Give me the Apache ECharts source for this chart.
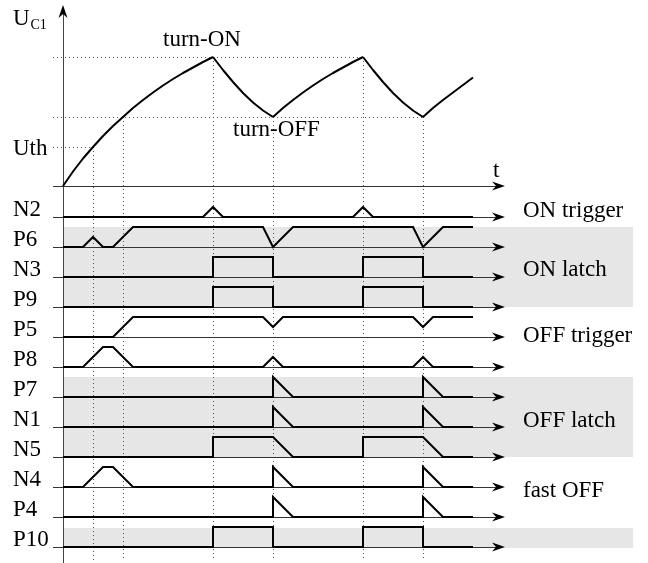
<!DOCTYPE html>
<html><head><meta charset="utf-8">
<script src="https://cdn.jsdelivr.net/npm/echarts@6/dist/echarts.min.js"></script>
<style>html,body{margin:0;padding:0;background:#fff}#c{width:648px;height:563px}</style>
</head><body><div id="c"></div>
<script>
// ---- data (time in units, levels in units) ----
const rowNames = ['N2','P6','N3','P9','P5','P8','P7','N1','N5','N4','P4','P10'];
const rowBaselines = [-3.1,-6.1,-9.1,-12.1,-15.1,-18.1,-21.1,-24.1,-27.1,-30.1,-33.1,-36.1];

const waveN2  = [[0,0],[14,0],[15,1],[16,0],[29,0],[30,1],[31,0],[41,0]];
const waveP6  = [[0,0],[2,0],[3,1],[4,0],[5,0],[7,2],[20,2],[21,0],[23,2],[35,2],[36,0],[38,2],[41,2]];
const waveN3  = [[0,0],[15,0],[15,2],[21,2],[21,0],[30,0],[30,2],[36,2],[36,0],[41,0]];
const waveP9  = [[0,0],[15,0],[15,2],[21,2],[21,0],[30,0],[30,2],[36,2],[36,0],[41,0]];
const waveP5  = [[0,0],[5,0],[7,2],[20,2],[21,1],[22,2],[35,2],[36,1],[37,2],[41,2]];
const waveP8  = [[0,0],[2,0],[4,2],[5,2],[7,0],[20,0],[21,1],[22,0],[35,0],[36,1],[37,0],[41,0]];
const waveP7  = [[0,0],[21,0],[21,2],[23,0],[36,0],[36,2],[38,0],[41,0]];
const waveN1  = [[0,0],[21,0],[21,2],[23,0],[36,0],[36,2],[38,0],[41,0]];
const waveN5  = [[0,0],[15,0],[15,2],[21,2],[23,0],[30,0],[30,2],[36,2],[38,0],[41,0]];
const waveN4  = [[0,0],[2,0],[4,2],[5,2],[7,0],[21,0],[21,2],[23,0],[36,0],[36,2],[38,0],[41,0]];
const waveP4  = [[0,0],[21,0],[21,2],[23,0],[36,0],[36,2],[38,0],[41,0]];
const waveP10 = [[0,0],[15,0],[15,2],[21,2],[21,0],[30,0],[30,2],[36,2],[36,0],[41,0]];
const waves = [waveN2,waveP6,waveN3,waveP9,waveP5,waveP8,waveP7,waveN1,waveN5,waveN4,waveP4,waveP10];

// U_C1 curve segments
const ucSeg1 = [[0,0],[1,1.45],[2,2.75],[3,3.9],[4,5.0],[5,6.0],[6,6.9],[7,7.8],[8,8.6],[9,9.35],[10,10.05],[11,10.7],[12,11.3],[13,11.85],[14,12.4],[15,12.9]];
const ucSeg2 = [[15,12.9],[16,11.6],[17,10.4],[18,9.3],[19,8.35],[20,7.55],[21,6.9]];
const ucSeg3 = [[21,6.9],[22,7.8],[23,8.6],[24,9.35],[25,10.05],[26,10.7],[27,11.3],[28,11.85],[29,12.4],[30,12.9]];
const ucSeg4 = [[30,12.9],[31,11.6],[32,10.4],[33,9.3],[34,8.35],[35,7.55],[36,6.9]];
const ucSeg5 = [[36,6.9],[37,7.8],[38,8.6],[39,9.35],[40,10.1],[41,10.85]];
const ucSegs = [ucSeg1,ucSeg2,ucSeg3,ucSeg4,ucSeg5];

const uth = 3.9, uLow = 6.9, uHigh = 12.9;
const vGuideT   = [3,6,15,21,30,36];
const vGuideTop = [uth,uLow,uHigh,uLow,uHigh,uLow];
const hGuideY   = [uHigh,uLow,uth];
const hGuideEnd = [30,36,3];

const bandTop    = [-4.1,-19.1,-34.2];
const bandBottom = [-12.1,-27.1,-36.2];

const groupLabels = ['ON trigger','ON latch','OFF trigger','OFF latch','fast OFF'];
const groupY      = [-3.2,-9.1,-15.7,-24.2,-31.2];

// ---- layout constants (styles) ----
const T_MIN = -6.3, T_MAX = 58.5, V_MIN = -37.7, V_MAX = 18.6;
const AX_START = -1, AX_END = 44.2, BAND_END = 57, V_AX_TOP = 18.1, GUIDE_BOTTOM = -37.4;
const FONT = 'Liberation Serif';

const chart = echarts.init(document.getElementById('c'), null, {renderer:'canvas'});

function snap(v){ return Math.round(v - 0.5) + 0.5; }

function hArrowLine(y, api){
  const p0 = api.coord([AX_START, y]), p1 = api.coord([AX_END, y]);
  const yy = snap(p1[1]);
  return {type:'group', children:[
    {type:'line', shape:{x1:p0[0], y1:yy, x2:p1[0]-8, y2:yy}, style:{stroke:'#333', lineWidth:1}},
    {type:'polygon', shape:{points:[[p1[0],p1[1]],[p1[0]-13,p1[1]-4.5],[p1[0]-9,p1[1]],[p1[0]-13,p1[1]+4.5]]}, style:{fill:'#000'}}
  ]};
}

const series = [];

// bands
series.push({
  type:'custom', z:1, silent:true, animation:false,
  data: bandTop.map((t,i)=>[0, t]),
  renderItem:(params, api)=>{
    const i = params.dataIndex;
    const a = api.coord([0, bandTop[i]]), b = api.coord([BAND_END, bandBottom[i]]);
    return {type:'rect', shape:{x:a[0], y:a[1], width:b[0]-a[0], height:b[1]-a[1]}, style:{fill:'#e6e6e6'}};
  }
});

// dotted guides
series.push({
  type:'custom', z:2, silent:true, animation:false,
  data: [[0,0]],
  renderItem:(params, api)=>{
    const ch = [];
    hGuideY.forEach((y,i)=>{
      const a = api.coord([AX_START, y]), b = api.coord([hGuideEnd[i], y]);
      const yy = snap(a[1]);
      ch.push({type:'line', shape:{x1:a[0], y1:yy, x2:b[0], y2:yy}, style:{stroke:'#555', lineWidth:1, lineDash:[1,3]}});
    });
    vGuideT.forEach((t,i)=>{
      const a = api.coord([t, vGuideTop[i]]), b = api.coord([t, GUIDE_BOTTOM]);
      const xx = snap(a[0]);
      ch.push({type:'line', shape:{x1:xx, y1:a[1], x2:xx, y2:b[1]}, style:{stroke:'#555', lineWidth:1, lineDash:[1,3]}});
    });
    return {type:'group', children:ch};
  }
});

// axes
series.push({
  type:'custom', z:3, silent:true, animation:false,
  data: [[0,0]],
  renderItem:(params, api)=>{
    const ch = [];
    const top = api.coord([0, V_AX_TOP]), bot = api.coord([0, V_MIN]);
    const xx = snap(top[0]);
    ch.push({type:'line', shape:{x1:xx, y1:bot[1], x2:xx, y2:top[1]+8}, style:{stroke:'#444', lineWidth:1}});
    ch.push({type:'polygon', shape:{points:[[top[0],top[1]],[top[0]-4.5,top[1]+13],[top[0],top[1]+9],[top[0]+4.5,top[1]+13]]}, style:{fill:'#000'}});
    ch.push(hArrowLine(0, api));
    rowBaselines.forEach(y=>ch.push(hArrowLine(y, api)));
    return {type:'group', children:ch};
  }
});

// U_C1 curve
ucSegs.forEach(seg=>{
  series.push({type:'line', z:4, data:seg, smooth:false, symbol:'none', silent:true, animation:false,
    lineStyle:{color:'#000', width:2, join:'round'}});
});

// waveforms
waves.forEach((w,i)=>{
  series.push({type:'line', z:4, data:w.map(p=>[p[0], rowBaselines[i]+p[1]]), symbol:'none', silent:true, animation:false,
    lineStyle:{color:'#000', width:2, join:'miter'}});
});

chart.setOption({
  animation:false,
  backgroundColor:'#fff',
  grid:{left:0, right:0, top:0, bottom:0},
  xAxis:{type:'value', min:T_MIN, max:T_MAX, show:false},
  yAxis:{type:'value', min:V_MIN, max:V_MAX, show:false},
  series
});

// texts placed through the chart's own coordinate conversion
const texts = [];
function txt(s, t, v, size){
  const p = chart.convertToPixel({gridIndex:0}, [t, v]);
  texts.push({type:'text', x:p[0], y:p[1], z:10, silent:true,
    style:{text:s, fill:'#000', fontSize:size||23, fontFamily:FONT, align:'left', verticalAlign:'middle'}});
}
txt('U', -5.0, 16.75);
txt('C1', -3.25, 16.03, 14);
txt('Uth', -5.0, 3.68);
txt('t', 43.0, 1.5);
txt('turn-ON', 10.0, 14.65);
txt('turn-OFF', 17.0, 5.65);
rowNames.forEach((n,i)=>txt(n, -5.0, rowBaselines[i]+0.75));
groupLabels.forEach((n,i)=>txt(n, 46.0, groupY[i]+0.75));
chart.setOption({graphic: texts});
</script></body></html>
